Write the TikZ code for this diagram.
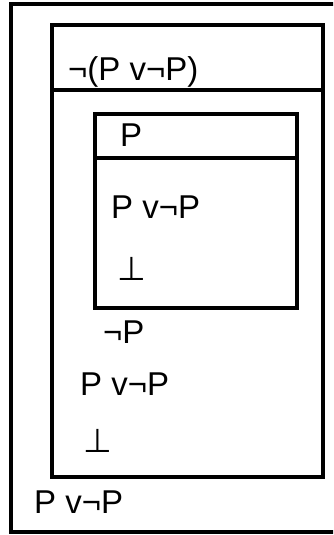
\documentclass[tikz,border=0pt]{standalone}
\usepackage{fontspec}
\setmainfont{Liberation Sans}
\newfontfamily\symfont{DejaVu Sans}
\usetikzlibrary{positioning, calc}
\newcommand{\nott}{\char"00AC}
\newcommand{\falsum}{{\symfont\char"22A5}}

\begin{document}
\begin{tikzpicture}
    [
        x=1pt, y=-1pt,
        box_line/.style={draw=black, line width=3.4pt},
        line_text/.style={anchor=base west, inner sep=0pt, font=\fontsize{33}{36}\selectfont},
    ]

  \useasboundingbox (0,0) rectangle (333,535);
  \clip (0,0) rectangle (333,535);

  % boxes
  \draw[box_line] (11,4) rectangle (336,532);
  \draw[box_line] (52,25) rectangle (323,477);
  \draw[box_line] (52,90) -- (323,90);
  \draw[box_line] (95,114) rectangle (297,308);
  \draw[box_line] (95,158) -- (297,158);

  % lines of the proof
  \node[line_text] (assume_a) at (68,80) {\nott(P v\nott P)};
  \node[line_text] (assume_b) at (120,146) {P};
  \node[line_text] (intro_a) at (111,218) {P v\nott P};
  \node[line_text] (bot_a) at (117,280) {\falsum};
  \node[line_text] (neg_p) at (103,343) {\nott P};
  \node[line_text] (intro_b) at (80,395) {P v\nott P};
  \node[line_text] (bot_b) at (83,452) {\falsum};
  \node[line_text] (result) at (34,513) {P v\nott P};
\end{tikzpicture}
\end{document}
